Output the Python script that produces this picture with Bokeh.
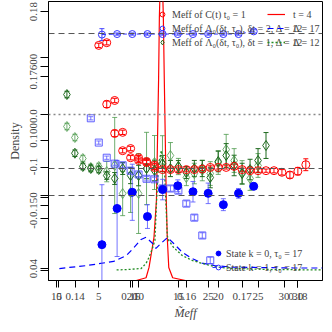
from bokeh.plotting import figure
from bokeh.models import (Range1d, FixedTicker, CustomJSTickFormatter, Span,
                          Legend, LegendItem)
from bokeh.embed import file_html
from bokeh.resources import INLINE

FONT = "Liberation Serif"

# ---------------- axis ranges (value at the frame edges) ----------------
T_RANGE = (-1.312, 33.094)      # main x axis (time slice t)
U_RANGE = (14.481, 32.532)      # second x axis
W_RANGE = (0.13522, 0.18442)    # third x axis
M_RANGE = (-0.3074, 0.2093)     # effective-mass axis
D_RANGE = (0.0, 1.0257)         # density axis

# ---------------- tick labels ----------------
T_TICKS = [0, 5, 10, 15, 20, 25, 30]
U_TICKS = [15, 20, 25, 30]
W_TICKS = [0.14, 0.15, 0.16, 0.17, 0.18]
Y_LABEL_AT = [0.1907, 0.0796, -0.0259, -0.0963, -0.1778, -0.2852]
Y_LABELS = ["0.18", "0.17600", "0.1000.0", "-0.1", "-0.0.150", "0.04"]
Y_MARKS = [0.1907, 0.1056, 0.0889, 0.0704, 0.0, -0.0481, -0.0981, -0.15,
           -0.1537, -0.1685, -0.1926, -0.2852, -0.2889]

REF_DASHED = [0.15, -0.1, -0.15]
REF_DOTTED = [0.0]

# ---------------- series ----------------
# M_eff of C(t), t0 = 1
red_t = list(range(5, 32))
red_m = [0.128, 0.019, -0.035, -0.067, -0.080, -0.085, -0.089, -0.098, -0.102,
         -0.102, -0.102, -0.102, -0.102, -0.101, -0.098, -0.098, -0.098, -0.096,
         -0.102, -0.104, -0.104, -0.104, -0.104, -0.107, -0.112, -0.105, -0.093]
red_e = [0.004, 0.006, 0.006, 0.004, 0.004, 0.004, 0.004, 0.004, 0.003, 0.003,
         0.003, 0.003, 0.003, 0.003, 0.003, 0.003, 0.003, 0.003, 0.003, 0.003,
         0.003, 0.003, 0.004, 0.005, 0.006, 0.007, 0.011]
red2_t = [6, 7, 8, 9, 10, 11, 12]
red2_m = [0.133, 0.026, -0.033, -0.063, -0.080, -0.087, -0.094]
red2_e = [0.004, 0.004, 0.004, 0.004, 0.004, 0.004, 0.004]

# M_eff of Lambda0, dt = 1
green_t = list(range(1, 27))
green_m = [0.037, -0.0717, -0.0963, -0.1, -0.1019, -0.113, -0.1185, -0.1, -0.113,
           -0.113, -0.1, -0.1037, -0.0907, -0.1, -0.0963, -0.1074, -0.1, -0.1,
           -0.1167, -0.087, -0.0759, -0.0944, -0.1093, -0.1019, -0.0852, -0.0574]
green_e = [0.006, 0.006, 0.006, 0.006, 0.006, 0.007, 0.011, 0.011, 0.015, 0.019,
           0.019, 0.019, 0.015, 0.015, 0.011, 0.011, 0.015, 0.015, 0.019, 0.019,
           0.022, 0.019, 0.019, 0.019, 0.022, 0.024]
green2_t = list(range(1, 26))
green2_m = [-0.0222, -0.0426, -0.0815, -0.0981, -0.0963, -0.1056, -0.0944, -0.1463,
            -0.1444, -0.1463, -0.1, -0.0889, -0.0852, -0.0759, -0.0963, -0.1167,
            -0.1093, -0.1037, -0.1093, -0.0889, -0.0648, -0.0852, -0.1074, -0.1185,
            -0.0944]
green2_e = [0.006, 0.006, 0.006, 0.006, 0.006, 0.019, 0.089, 0.041, 0.037, 0.074,
            0.067, 0.05, 0.046, 0.024, 0.015, 0.015, 0.019, 0.019, 0.022, 0.022,
            0.028, 0.022, 0.022, 0.022, 0.022]

# M_eff of Lambda0, dt = 2 (squares)
sq_t = list(range(4, 20))
sq_m = [-0.007, -0.052, -0.080, -0.091, -0.094, -0.104, -0.111, -0.119, -0.120,
        -0.137, -0.137, -0.141, -0.165, -0.191, -0.224, -0.270]
sq_e = [0.003, 0.003, 0.003, 0.003, 0.004, 0.004, 0.004, 0.004, 0.004, 0.005,
        0.005, 0.005, 0.005, 0.005, 0.005, 0.006]

# State k = 0 / k = 1, tau0 = 17 (second x axis)
k0_u = list(range(18, 29))
k0_m = [-0.241, -0.174, -0.144, -0.189, -0.139, -0.132, -0.143, -0.146, -0.167,
        -0.146, -0.133]
k0_e = [0.111, 0.089, 0.052, 0.022, 0.019, 0.011, 0.019, 0.019, 0.011, 0.009, 0.006]
k1_u = list(range(18, 29))
k1_m = [0.148, 0.149, 0.149, 0.149, 0.149, 0.149, 0.149, 0.149, 0.149, 0.149, 0.154]
k1_e = [0.011, 0.002, 0.002, 0.002, 0.002, 0.002, 0.002, 0.002, 0.002, 0.002, 0.003]

# densities
dr_t = [9.70, 10.94, 11.31, 11.93, 12.24, 12.51, 12.61, 12.86, 13.11, 13.23, 13.48,
        13.60, 13.79, 14.28, 15.89]
dr_d = [0.0, 0.01, 0.048, 0.158, 0.294, 0.735, 0.967, 1.25, 0.967, 0.735, 0.294,
        0.158, 0.048, 0.01, 0.0]
db_t = [0.05, 3.51, 6.86, 8.47, 9.33, 10.32, 10.94, 11.77, 12.18, 12.80, 13.63,
        14.41, 15.48, 16.72, 17.96, 19.55, 21.67, 24.55, 29.50, 33.09]
db_d = [0.044, 0.055, 0.070, 0.092, 0.118, 0.151, 0.159, 0.136, 0.118, 0.136, 0.158,
        0.136, 0.104, 0.081, 0.064, 0.055, 0.049, 0.048, 0.046, 0.046]
dg_t = [7.24, 8.47, 10.32, 10.94, 11.31, 11.77, 12.05, 12.26, 12.49, 12.86, 13.23,
        13.42, 13.60, 13.79, 14.41, 15.48, 16.72, 17.96, 19.55, 21.67, 27.03, 33.09]
dg_d = [0.039, 0.040, 0.044, 0.063, 0.085, 0.121, 0.147, 0.294, 0.423, 0.478, 0.423,
        0.294, 0.165, 0.147, 0.121, 0.092, 0.074, 0.063, 0.051, 0.044, 0.040, 0.039]

# ---------------- figure ----------------
p = figure(width=324, height=324, x_range=Range1d(*T_RANGE),
           y_range=Range1d(*M_RANGE), output_backend="svg", toolbar_location=None,
           min_border_left=48, min_border_right=2, min_border_top=1,
           min_border_bottom=44)
p.extra_x_ranges = {"u": Range1d(*U_RANGE)}
p.extra_y_ranges = {"dens": Range1d(*D_RANGE)}
p.grid.visible = False
p.outline_line_color = "black"
p.outline_line_width = 1
p.background_fill_color = "white"

for v in REF_DASHED:
    p.add_layout(Span(location=v, dimension="width", line_color="#555555",
                      line_dash="6 4", line_width=1))
for v in REF_DOTTED:
    p.add_layout(Span(location=v, dimension="width", line_color="#888888",
                      line_dash="2 3", line_width=1.3))

# density curves
r_dr = p.line(dr_t, dr_d, line_color="#ff0000", line_width=1.2, y_range_name="dens")
r_db = p.line(db_t, db_d, line_color="#0000ff", line_width=1.2, line_dash="6 4",
              y_range_name="dens")
r_dg = p.line(dg_t, dg_d, line_color="#228b22", line_width=1.3, line_dash="2 2",
              y_range_name="dens")


def errbar(x, y, e, color, alpha=1.0, xr="default", cap=5):
    lo = [a - b for a, b in zip(y, e)]
    hi = [a + b for a, b in zip(y, e)]
    p.segment(x, lo, x, hi, line_color=color, line_alpha=alpha, line_width=1,
              x_range_name=xr)
    p.scatter(list(x) + list(x), lo + hi, marker="dash", size=cap, line_color=color,
              line_alpha=alpha, line_width=1, x_range_name=xr)


errbar(green2_t, green2_m, green2_e, "#4c9a4c", 0.8)
errbar(green_t, green_m, green_e, "#1f6a1f")
errbar(sq_t, sq_m, sq_e, "#5555ff", 0.8)
errbar(k0_u, k0_m, k0_e, "#5050ff", 0.8, xr="u")
errbar(k1_u, k1_m, k1_e, "#3333ff", 0.9, xr="u")
errbar(red_t, red_m, red_e, "#ff0000")
errbar(red2_t, red2_m, red2_e, "#ff0000")

r_g2 = p.scatter(green2_t, green2_m, marker="diamond", size=10, fill_color=None,
                 line_color="#4c9a4c", line_alpha=0.8, line_width=1)
r_g = p.scatter(green_t, green_m, marker="diamond", size=10, fill_color=None,
                line_color="#1f6a1f", line_width=1)
r_sq = p.scatter(sq_t, sq_m, marker="square", size=7, fill_color=None,
                 line_color="#4444ff", line_alpha=0.85, line_width=1)
r_k0 = p.scatter(k0_u, k0_m, marker="circle", size=8, fill_color="#0000ff",
                 line_color="#0000ff", x_range_name="u")
r_k1l = p.line(k1_u, k1_m, line_color="#3333ff", line_dash="4 3", line_width=1,
               x_range_name="u")
r_k1 = p.scatter(k1_u, k1_m, marker="circle", size=7, fill_color=None,
                 line_color="#3333ff", line_width=1, x_range_name="u")
r_red2 = p.scatter(red2_t, red2_m, marker="circle", size=8, fill_color=None,
                   line_color="#ff0000", line_width=1)
r_red = p.scatter(red_t, red_m, marker="circle", size=8, fill_color=None,
                  line_color="#ff0000", line_width=1)


# ---------------- axes ----------------
def to_main(v, rng):
    return T_RANGE[0] + (v - rng[0]) / (rng[1] - rng[0]) * (T_RANGE[1] - T_RANGE[0])


x_labels = {}
for t in T_TICKS:
    x_labels[f"{float(t):.4f}"] = str(t)
for u in U_TICKS:
    x_labels[f"{to_main(u, U_RANGE):.4f}"] = str(u)
for w in W_TICKS:
    x_labels[f"{to_main(w, W_RANGE):.4f}"] = f"{w:.2f}"
x_ticks = sorted(float(k) for k in x_labels)

y_labels = {f"{v:.4f}": s for v, s in zip(Y_LABEL_AT, Y_LABELS)}

code = "const s = labels[tick.toFixed(4)]; return s === undefined ? '' : s;"
xa = p.xaxis[0]
xa.ticker = FixedTicker(ticks=x_ticks)
xa.formatter = CustomJSTickFormatter(args=dict(labels=x_labels), code=code)
xa.major_tick_out = 7
xa.major_tick_in = 0
xa.minor_tick_out = 0
xa.minor_tick_in = 0
xa.major_label_standoff = 5
xa.major_label_text_font = FONT
xa.major_label_text_font_size = "11px"
xa.axis_label = "M\u0303eff"
xa.axis_label_text_font = FONT
xa.axis_label_text_font_size = "12px"
xa.axis_label_text_font_style = "italic"
xa.axis_label_standoff = 3

ya = p.yaxis[0]
ya.ticker = FixedTicker(ticks=Y_LABEL_AT, minor_ticks=Y_MARKS)
ya.formatter = CustomJSTickFormatter(args=dict(labels=y_labels), code=code)
ya.major_tick_out = 0
ya.major_tick_in = 0
ya.minor_tick_out = 8
ya.minor_tick_in = 0
ya.major_label_orientation = "parallel"
ya.major_label_standoff = 3
ya.major_label_text_font = FONT
ya.major_label_text_font_size = "11px"
ya.axis_label = "Density"
ya.axis_label_text_font = FONT
ya.axis_label_text_font_size = "12px"
ya.axis_label_text_font_style = "normal"
ya.axis_label_standoff = 6

# ---------------- legends ----------------
common = dict(background_fill_alpha=0, border_line_alpha=0, label_text_font=FONT,
              label_text_font_size="10px", glyph_height=14, label_height=14,
              spacing=0, padding=0, margin=0)

leg1 = Legend(items=[
    LegendItem(label="Meff of C(t) t\u2080 = 1", renderers=[r_red]),
    LegendItem(label="Meff of \u039b\u2080(\u03b4t, \u03c4\u2080), \u03b4t = 2, \u0394 = 12",
               renderers=[r_k1]),
    LegendItem(label="Meff of \u039b\u2080(\u03b4t, \u03c4\u2080), \u03b4t = 1, \u0394 = 12",
               renderers=[r_g]),
], location=(108, 231), glyph_width=12, label_standoff=4, **common)

leg2 = Legend(items=[
    LegendItem(label="t = 4", renderers=[r_dr]),
    LegendItem(label="\u0394 = 17", renderers=[r_db]),
    LegendItem(label="\u0394 = 12", renderers=[r_dg]),
], location=(219, 231), glyph_width=18, label_standoff=8, **common)

leg3 = Legend(items=[
    LegendItem(label="State k = 0, \u03c4\u2080 = 17", renderers=[r_k0]),
    LegendItem(label="State k = 1, \u03c4\u2080 = 17", renderers=[r_k1l, r_k1]),
], location=(164, 6), glyph_width=12, label_standoff=2, **common)

for lg in (leg1, leg2, leg3):
    p.add_layout(lg, "center")

open("out.html", "w").write(file_html(p, INLINE))
